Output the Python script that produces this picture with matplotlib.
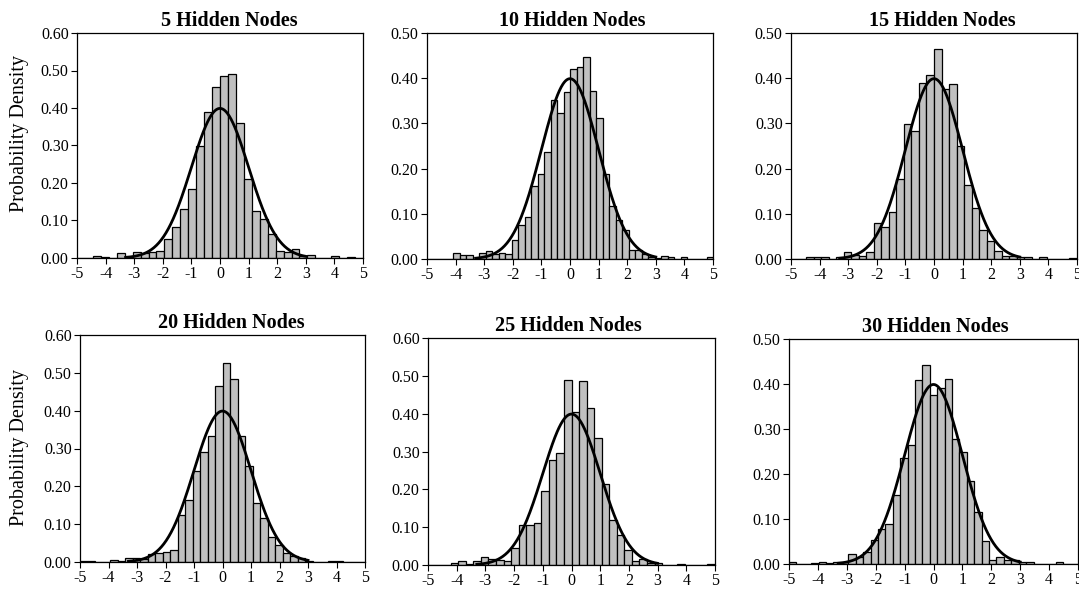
import numpy as np
import matplotlib
matplotlib.use('Agg')
import matplotlib.pyplot as plt

plt.rcParams['font.family'] = ['Liberation Serif', 'DejaVu Serif']
plt.rcParams['axes.unicode_minus'] = False

# histogram heights (probability density), bins spread evenly over -5..5
titles = ['5 Hidden Nodes', '10 Hidden Nodes', '15 Hidden Nodes',
          '20 Hidden Nodes', '25 Hidden Nodes', '30 Hidden Nodes']

h5 = [0, 0.001, 0.004, 0.002, 0.001, 0.012, 0.003, 0.016, 0.012, 0.016,
      0.018, 0.05, 0.083, 0.13, 0.185, 0.30, 0.39, 0.455, 0.485, 0.49,
      0.36, 0.21, 0.125, 0.105, 0.065, 0.018, 0.015, 0.025, 0.006, 0.008,
      0.001, 0.001, 0.004, 0.001, 0.002, 0]
h10 = [0, 0, 0, 0, 0.014, 0.009, 0.009, 0.001, 0.014, 0.018,
       0.01, 0.014, 0.01, 0.042, 0.075, 0.092, 0.162, 0.188, 0.237, 0.352,
       0.322, 0.37, 0.42, 0.425, 0.447, 0.372, 0.313, 0.188, 0.118, 0.087,
       0.065, 0.02, 0.02, 0.012, 0.005, 0.002, 0.007, 0.004, 0, 0.004,
       0, 0, 0, 0.004]
h15 = [0, 0, 0.005, 0.005, 0.004, 0, 0.004, 0.016, 0.008, 0.007,
       0.015, 0.08, 0.07, 0.103, 0.176, 0.298, 0.283, 0.39, 0.408, 0.465,
       0.377, 0.388, 0.25, 0.163, 0.113, 0.064, 0.04, 0.017, 0.006, 0.006,
       0.004, 0.004, 0, 0.005, 0, 0, 0, 0.003]
h20 = [0.002, 0.002, 0, 0, 0.006, 0.003, 0.01, 0.01, 0.008, 0.02,
       0.025, 0.027, 0.033, 0.123, 0.164, 0.24, 0.29, 0.332, 0.466, 0.527,
       0.484, 0.333, 0.255, 0.155, 0.116, 0.066, 0.045, 0.025, 0.015, 0.01,
       0.002, 0, 0, 0.002, 0.002, 0, 0, 0.001]
h25 = [0, 0, 0, 0.005, 0.01, 0.002, 0.01, 0.02, 0.017, 0.012,
       0.01, 0.045, 0.105, 0.105, 0.11, 0.195, 0.278, 0.297, 0.49, 0.405,
       0.487, 0.415, 0.335, 0.213, 0.12, 0.078, 0.04, 0.01, 0.015, 0.005,
       0.006, 0, 0, 0.002, 0, 0, 0, 0.002]
h30 = [0.004, 0.001, 0.001, 0.003, 0.005, 0.002, 0.004, 0.004, 0.022, 0.015,
       0.027, 0.053, 0.077, 0.088, 0.153, 0.236, 0.265, 0.408, 0.442, 0.375,
       0.392, 0.412, 0.278, 0.25, 0.184, 0.115, 0.051, 0.01, 0.015, 0.008,
       0.01, 0.005, 0.004, 0, 0, 0, 0.004, 0, 0]

heights = [h5, h10, h15, h20, h25, h30]
ymax = [0.6, 0.5, 0.5, 0.6, 0.6, 0.5]

W, H = 1079, 592
fig = plt.figure(figsize=(W / 100, H / 100), dpi=100)

# axes boxes in pixels: left, top, right, bottom
boxes = [(77, 33, 363, 258), (427, 33, 713, 259), (791, 33, 1077, 259),
         (80, 335, 365, 562), (428, 338, 715, 565), (789, 339, 1078, 564)]
# title centres (x px), the excel titles are not always centred on the plot
title_x = [229, 572, 942, 231, 568, 935]
ylab_y = {0: 134, 3: 448}

xs = np.linspace(-3.3, 3.0, 300)
pdf = np.exp(-xs ** 2 / 2) / np.sqrt(2 * np.pi)

for i in range(6):
    l, t, r, b = boxes[i]
    ax = fig.add_axes([l / W, 1 - b / H, (r - l) / W, (b - t) / H])
    h = np.array(heights[i])
    edges = np.linspace(-5, 5, len(h) + 1)
    ax.bar(edges[:-1], h, width=np.diff(edges), align='edge',
           color='#c0c0c0', edgecolor='black', linewidth=0.9)
    ax.plot(xs, pdf, color='black', lw=2.0)
    ax.set_xlim(-5, 5)
    ax.set_ylim(0, ymax[i])
    ax.set_xticks(range(-5, 6))
    ax.set_yticks(np.arange(0, ymax[i] + 0.001, 0.1))
    ax.yaxis.set_major_formatter(matplotlib.ticker.FormatStrFormatter('%.2f'))
    ax.tick_params(direction='out', length=4, width=0.8, labelsize=11.5, pad=2)
    for s in ax.spines.values():
        s.set_linewidth(0.9)
    fig.text(title_x[i] / W, 1 - (t - 7) / H, titles[i], ha='center',
             va='baseline', fontsize=14.5, fontweight='bold')
    if i in ylab_y:
        fig.text(20 / W, 1 - ylab_y[i] / H, 'Probability Density',
                 rotation=90, ha='center', va='center', fontsize=14.5)

fig.savefig('out.png', dpi=100)
